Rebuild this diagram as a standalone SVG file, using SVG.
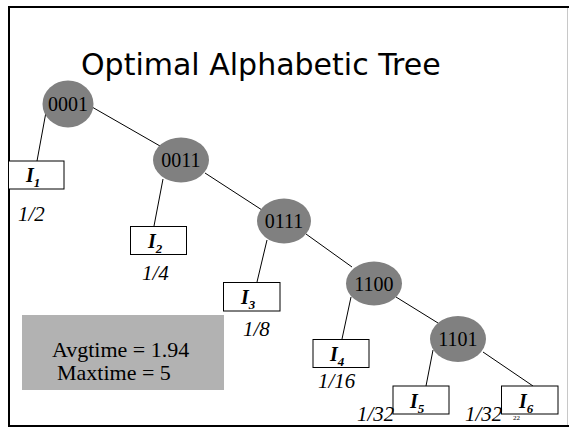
<svg xmlns="http://www.w3.org/2000/svg" width="569" height="429" viewBox="0 0 569 429">
  <style>
    .node ellipse { fill: #808080; stroke: none; }
    .node text { font-family: "Liberation Serif", serif; font-size: 20px; fill: #000; text-anchor: middle; }
    .leaf rect { fill: #fff; stroke: #000; stroke-width: 1; }
    .leaf text { font-family: "Liberation Serif", serif; font-weight: bold; font-style: italic; font-size: 20px; fill: #000; }
    .leaf tspan.sub { font-size: 13px; }
    .prob { font-family: "Liberation Serif", serif; font-style: italic; font-size: 21px; fill: #000; }
    .edges line { stroke: #000; stroke-width: 1; }
    .stats text { font-family: "Liberation Serif", serif; font-size: 22px; fill: #000; }
  </style>

  <rect x="0" y="0" width="569" height="429" fill="#fff"/>

  <!-- slide frame -->
  <line x1="567.5" y1="7" x2="567.5" y2="426" stroke="#c8c8c8" stroke-width="1"/>
  <path d="M9,427 V7 H569" fill="none" stroke="#000" stroke-width="2"/>
  <line x1="8" y1="426" x2="569" y2="426" stroke="#000" stroke-width="2"/>

  <text x="81" y="75" font-family="DejaVu Sans, sans-serif" font-size="30" fill="#000">Optimal Alphabetic Tree</text>

  <!-- connectors -->
  <g class="edges">
    <line x1="46" y1="112" x2="37" y2="161"/>
    <line x1="92" y1="107" x2="160" y2="146"/>
    <line x1="163" y1="179" x2="154" y2="226"/>
    <line x1="205" y1="173" x2="262" y2="210"/>
    <line x1="267" y1="240" x2="257" y2="282"/>
    <line x1="306" y1="234" x2="352" y2="267"/>
    <line x1="351" y1="297" x2="342" y2="339"/>
    <line x1="396" y1="297" x2="438" y2="323"/>
    <line x1="433" y1="350" x2="426" y2="386"/>
    <line x1="483" y1="352" x2="533" y2="386"/>
  </g>

  <!-- internal nodes -->
  <g id="n0001" class="node">
    <ellipse cx="68" cy="104" rx="25.5" ry="23.5"/>
    <text x="68" y="111">0001</text>
  </g>
  <g id="n0011" class="node">
    <ellipse cx="181" cy="160" rx="28" ry="22.5"/>
    <text x="181" y="167">0011</text>
  </g>
  <g id="n0111" class="node">
    <ellipse cx="284" cy="221" rx="27" ry="22.5"/>
    <text x="284" y="228">0111</text>
  </g>
  <g id="n1100" class="node">
    <ellipse cx="374" cy="283.5" rx="28" ry="22"/>
    <text x="374" y="290.5">1100</text>
  </g>
  <g id="n1101" class="node">
    <ellipse cx="458" cy="339" rx="28" ry="23"/>
    <text x="458" y="346">1101</text>
  </g>

  <!-- leaves -->
  <g id="I1" class="leaf">
    <rect x="8.5" y="161" width="55.5" height="28"/>
    <text x="26" y="182">I<tspan class="sub" dy="5">1</tspan></text>
  </g>
  <g id="I2" class="leaf">
    <rect x="130.5" y="226.5" width="56" height="28"/>
    <text x="148" y="248">I<tspan class="sub" dy="5">2</tspan></text>
  </g>
  <g id="I3" class="leaf">
    <rect x="223.5" y="282.5" width="56.5" height="28.5"/>
    <text x="241" y="304">I<tspan class="sub" dy="5">3</tspan></text>
  </g>
  <g id="I4" class="leaf">
    <rect x="313" y="339.5" width="56" height="28"/>
    <text x="330" y="361">I<tspan class="sub" dy="5">4</tspan></text>
  </g>
  <g id="I5" class="leaf">
    <rect x="393" y="386" width="56" height="28"/>
    <text x="410" y="408">I<tspan class="sub" dy="5">5</tspan></text>
  </g>
  <g id="I6" class="leaf">
    <rect x="501.5" y="386" width="56.5" height="28"/>
    <text x="519" y="408">I<tspan class="sub" dy="5">6</tspan></text>
  </g>

  <!-- leaf weights -->
  <text class="prob" x="18" y="221">1/2</text>
  <text class="prob" x="142" y="280">1/4</text>
  <text class="prob" x="243" y="336">1/8</text>
  <text class="prob" x="318" y="388">1/16</text>
  <text class="prob" x="357" y="421">1/32</text>
  <text class="prob" x="465" y="421">1/32</text>

  <!-- slide number -->
  <text x="513" y="420" font-family="Liberation Serif, serif" font-size="7" fill="#000">22</text>

  <!-- summary box -->
  <g id="stats" class="stats">
    <rect x="22" y="315" width="202" height="75" fill="#b2b2b2"/>
    <text x="52" y="357">Avgtime = 1.94</text>
    <text x="57" y="380">Maxtime = 5</text>
  </g>
</svg>
